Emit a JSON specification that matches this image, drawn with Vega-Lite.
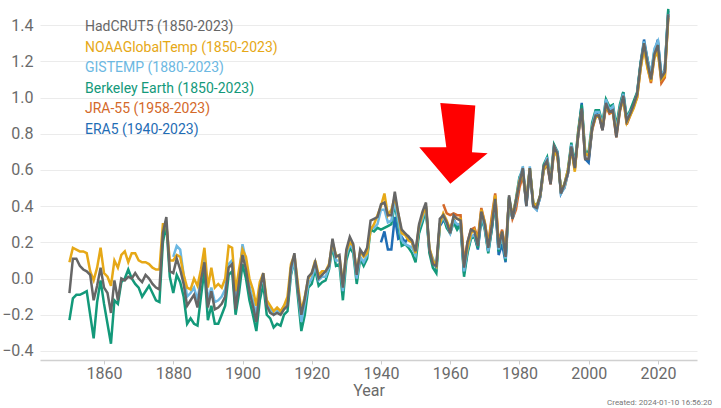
{
  "$schema": "https://vega.github.io/schema/vega-lite/v6.json",
  "width": 657,
  "height": 353,
  "autosize": "none",
  "padding": {"left": 40, "top": 7, "right": 24, "bottom": 48},
  "background": "white",
  "title": {"text": "Created: 2024-01-10 16:56:20", "orient": "bottom", "anchor": "end", "fontSize": 8, "fontWeight": "normal", "color": "#777777", "font": "Roboto", "offset": 1, "dx": 15},
  "config": {
    "view": {"stroke": null},
    "font": "Roboto",
    "axis": {"labelFont": "Roboto", "titleFont": "Roboto"},
    "legend": {"labelFont": "Roboto"}
  },
  "datasets": {
    "t": [
      {"year":1850,"H":-0.08,"N":0.09,"B":-0.23},
      {"year":1851,"H":0.11,"N":0.17,"B":-0.11},
      {"year":1852,"H":0.11,"N":0.16,"B":-0.09},
      {"year":1853,"H":0.07,"N":0.15,"B":-0.09},
      {"year":1854,"H":0.05,"N":0.15,"B":-0.08},
      {"year":1855,"H":0.04,"N":0.14,"B":-0.07},
      {"year":1856,"H":0.02,"N":0.04,"B":-0.2},
      {"year":1857,"H":-0.12,"N":-0.01,"B":-0.33},
      {"year":1858,"H":-0.04,"N":0.06,"B":-0.13},
      {"year":1859,"H":0.06,"N":0.17,"B":-0.01},
      {"year":1860,"H":-0.05,"N":0.03,"B":-0.14},
      {"year":1861,"H":-0.08,"N":0.01,"B":-0.25},
      {"year":1862,"H":-0.19,"N":-0.04,"B":-0.36},
      {"year":1863,"H":-0.01,"N":0.1,"B":-0.12},
      {"year":1864,"H":-0.12,"N":0.06,"B":-0.14},
      {"year":1865,"H":0.0,"N":0.13,"B":-0.02},
      {"year":1866,"H":-0.01,"N":0.15,"B":0.0},
      {"year":1867,"H":0.01,"N":0.09,"B":0.05},
      {"year":1868,"H":0.0,"N":0.14,"B":0.0},
      {"year":1869,"H":0.03,"N":0.14,"B":-0.03},
      {"year":1870,"H":0.0,"N":0.1,"B":-0.05},
      {"year":1871,"H":-0.02,"N":0.09,"B":-0.1},
      {"year":1872,"H":0.02,"N":0.09,"B":-0.07},
      {"year":1873,"H":0.0,"N":0.08,"B":-0.04},
      {"year":1874,"H":-0.03,"N":0.06,"B":-0.08},
      {"year":1875,"H":-0.05,"N":0.05,"B":-0.12},
      {"year":1876,"H":-0.06,"N":0.05,"B":-0.13},
      {"year":1877,"H":0.25,"N":0.3,"B":0.2},
      {"year":1878,"H":0.34,"N":0.3,"B":0.3},
      {"year":1879,"H":0.04,"N":0.1,"B":0.01},
      {"year":1880,"H":0.03,"N":0.1,"G":0.12,"B":-0.08},
      {"year":1881,"H":0.11,"N":0.13,"G":0.18,"B":0.02},
      {"year":1882,"H":0.05,"N":0.12,"G":0.16,"B":-0.02},
      {"year":1883,"H":-0.03,"N":0.02,"G":0.02,"B":-0.1},
      {"year":1884,"H":-0.15,"N":-0.05,"G":-0.1,"B":-0.25},
      {"year":1885,"H":-0.12,"N":-0.06,"G":-0.08,"B":-0.22},
      {"year":1886,"H":-0.09,"N":0.0,"G":-0.05,"B":-0.25},
      {"year":1887,"H":-0.16,"N":-0.04,"G":-0.12,"B":-0.26},
      {"year":1888,"H":-0.01,"N":0.05,"G":0.0,"B":-0.1},
      {"year":1889,"H":0.09,"N":0.17,"G":0.12,"B":0.05},
      {"year":1890,"H":-0.16,"N":-0.05,"G":-0.12,"B":-0.23},
      {"year":1891,"H":-0.07,"N":0.06,"G":-0.05,"B":-0.15},
      {"year":1892,"H":-0.17,"N":-0.05,"G":-0.13,"B":-0.25},
      {"year":1893,"H":-0.16,"N":-0.03,"G":-0.12,"B":-0.25},
      {"year":1894,"H":-0.14,"N":-0.05,"G":-0.1,"B":-0.2},
      {"year":1895,"H":-0.1,"N":0.0,"G":-0.06,"B":-0.15},
      {"year":1896,"H":0.06,"N":0.18,"G":0.08,"B":0.02},
      {"year":1897,"H":0.08,"N":0.17,"G":0.1,"B":0.04},
      {"year":1898,"H":-0.17,"N":-0.07,"G":-0.12,"B":-0.2},
      {"year":1899,"H":-0.02,"N":0.05,"G":0.0,"B":-0.08},
      {"year":1900,"H":0.13,"N":0.16,"G":0.19,"B":0.08},
      {"year":1901,"H":0.05,"N":0.12,"G":0.1,"B":0.0},
      {"year":1902,"H":-0.07,"N":0.0,"G":-0.04,"B":-0.12},
      {"year":1903,"H":-0.15,"N":-0.06,"G":-0.12,"B":-0.2},
      {"year":1904,"H":-0.24,"N":-0.15,"G":-0.2,"B":-0.29},
      {"year":1905,"H":-0.06,"N":-0.02,"G":-0.06,"B":-0.12},
      {"year":1906,"H":0.03,"N":0.03,"G":0.01,"B":-0.03},
      {"year":1907,"H":-0.15,"N":-0.12,"G":-0.14,"B":-0.2},
      {"year":1908,"H":-0.19,"N":-0.15,"G":-0.17,"B":-0.22},
      {"year":1909,"H":-0.2,"N":-0.18,"G":-0.2,"B":-0.27},
      {"year":1910,"H":-0.19,"N":-0.16,"G":-0.18,"B":-0.25},
      {"year":1911,"H":-0.2,"N":-0.18,"G":-0.19,"B":-0.26},
      {"year":1912,"H":-0.17,"N":-0.15,"G":-0.15,"B":-0.2},
      {"year":1913,"H":-0.15,"N":-0.1,"G":-0.13,"B":-0.18},
      {"year":1914,"H":0.06,"N":0.08,"G":0.03,"B":0.02},
      {"year":1915,"H":0.14,"N":0.13,"G":0.1,"B":0.1},
      {"year":1916,"H":-0.06,"N":-0.03,"G":-0.06,"B":-0.1},
      {"year":1917,"H":-0.2,"N":-0.18,"G":-0.24,"B":-0.29},
      {"year":1918,"H":-0.11,"N":-0.1,"G":-0.14,"B":-0.2},
      {"year":1919,"H":0.01,"N":0.0,"G":-0.03,"B":-0.05},
      {"year":1920,"H":0.03,"N":0.03,"G":0.0,"B":-0.03},
      {"year":1921,"H":0.09,"N":0.1,"G":0.07,"B":0.05},
      {"year":1922,"H":0.0,"N":0.02,"G":-0.01,"B":-0.04},
      {"year":1923,"H":0.02,"N":0.04,"G":0.01,"B":-0.02},
      {"year":1924,"H":0.04,"N":0.04,"G":0.01,"B":-0.01},
      {"year":1925,"H":0.07,"N":0.08,"G":0.06,"B":0.05},
      {"year":1926,"H":0.22,"N":0.2,"G":0.2,"B":0.18},
      {"year":1927,"H":0.12,"N":0.13,"G":0.1,"B":0.07},
      {"year":1928,"H":0.13,"N":0.12,"G":0.1,"B":0.08},
      {"year":1929,"H":-0.05,"N":-0.03,"G":-0.07,"B":-0.12},
      {"year":1930,"H":0.16,"N":0.15,"G":0.13,"B":0.1},
      {"year":1931,"H":0.23,"N":0.2,"G":0.19,"B":0.17},
      {"year":1932,"H":0.19,"N":0.18,"G":0.16,"B":0.14},
      {"year":1933,"H":0.02,"N":0.04,"G":0.0,"B":-0.03},
      {"year":1934,"H":0.16,"N":0.15,"G":0.12,"B":0.11},
      {"year":1935,"H":0.13,"N":0.12,"G":0.09,"B":0.07},
      {"year":1936,"H":0.17,"N":0.14,"G":0.13,"B":0.11},
      {"year":1937,"H":0.32,"N":0.27,"G":0.28,"B":0.27},
      {"year":1938,"H":0.33,"N":0.3,"G":0.28,"B":0.26},
      {"year":1939,"H":0.34,"N":0.35,"G":0.3,"B":0.28},
      {"year":1940,"H":0.41,"N":0.4,"G":0.38,"B":0.27,"E":0.2},
      {"year":1941,"H":0.42,"N":0.47,"G":0.38,"B":0.28,"E":0.26},
      {"year":1942,"H":0.35,"N":0.35,"G":0.31,"B":0.29,"E":0.16},
      {"year":1943,"H":0.35,"N":0.38,"G":0.32,"B":0.3,"E":0.16},
      {"year":1944,"H":0.48,"N":0.45,"G":0.43,"B":0.41,"E":0.34},
      {"year":1945,"H":0.36,"N":0.36,"G":0.32,"B":0.3,"E":0.22},
      {"year":1946,"H":0.27,"N":0.25,"G":0.21,"B":0.18,"E":0.23},
      {"year":1947,"H":0.25,"N":0.24,"G":0.19,"B":0.19,"E":0.2},
      {"year":1948,"H":0.23,"N":0.21,"G":0.18,"B":0.17,"E":0.23},
      {"year":1949,"H":0.21,"N":0.2,"G":0.17,"B":0.14,"E":0.2},
      {"year":1950,"H":0.15,"N":0.14,"G":0.13,"B":0.09,"E":0.13},
      {"year":1951,"H":0.3,"N":0.29,"G":0.28,"B":0.25,"E":0.26},
      {"year":1952,"H":0.37,"N":0.35,"G":0.33,"B":0.31,"E":0.33},
      {"year":1953,"H":0.42,"N":0.4,"G":0.4,"B":0.38,"E":0.39},
      {"year":1954,"H":0.16,"N":0.17,"G":0.16,"B":0.14,"E":0.15},
      {"year":1955,"H":0.08,"N":0.1,"G":0.11,"B":0.06,"E":0.1},
      {"year":1956,"H":0.07,"N":0.07,"G":0.07,"B":0.03,"E":0.06},
      {"year":1957,"H":0.33,"N":0.3,"G":0.3,"B":0.3,"E":0.29},
      {"year":1958,"H":0.35,"N":0.36,"G":0.34,"B":0.34,"E":0.32,"J":0.41},
      {"year":1959,"H":0.31,"N":0.32,"G":0.3,"B":0.28,"E":0.31,"J":0.36},
      {"year":1960,"H":0.25,"N":0.27,"G":0.25,"B":0.25,"E":0.27,"J":0.35},
      {"year":1961,"H":0.35,"N":0.34,"G":0.32,"B":0.31,"E":0.33,"J":0.36},
      {"year":1962,"H":0.33,"N":0.33,"G":0.3,"B":0.27,"E":0.28,"J":0.35},
      {"year":1963,"H":0.32,"N":0.33,"G":0.3,"B":0.3,"E":0.3,"J":0.35},
      {"year":1964,"H":0.06,"N":0.08,"G":0.04,"B":0.01,"E":0.03,"J":0.09},
      {"year":1965,"H":0.2,"N":0.17,"G":0.16,"B":0.14,"E":0.15,"J":0.2},
      {"year":1966,"H":0.27,"N":0.25,"G":0.23,"B":0.22,"E":0.23,"J":0.27},
      {"year":1967,"H":0.26,"N":0.27,"G":0.24,"B":0.23,"E":0.24,"J":0.28},
      {"year":1968,"H":0.18,"N":0.21,"G":0.18,"B":0.17,"E":0.16,"J":0.22},
      {"year":1969,"H":0.37,"N":0.38,"G":0.36,"B":0.34,"E":0.33,"J":0.39},
      {"year":1970,"H":0.3,"N":0.31,"G":0.28,"B":0.27,"E":0.28,"J":0.31},
      {"year":1971,"H":0.17,"N":0.18,"G":0.15,"B":0.14,"E":0.15,"J":0.19},
      {"year":1972,"H":0.29,"N":0.32,"G":0.29,"B":0.27,"E":0.27,"J":0.34},
      {"year":1973,"H":0.44,"N":0.46,"G":0.43,"B":0.42,"E":0.42,"J":0.47},
      {"year":1974,"H":0.17,"N":0.19,"G":0.16,"B":0.15,"E":0.13,"J":0.2},
      {"year":1975,"H":0.26,"N":0.26,"G":0.24,"B":0.24,"E":0.19,"J":0.27},
      {"year":1976,"H":0.12,"N":0.14,"G":0.11,"B":0.1,"E":0.09,"J":0.16},
      {"year":1977,"H":0.46,"N":0.44,"G":0.44,"B":0.45,"E":0.43,"J":0.44},
      {"year":1978,"H":0.33,"N":0.35,"G":0.33,"B":0.34,"E":0.33,"J":0.33},
      {"year":1979,"H":0.43,"N":0.43,"G":0.42,"B":0.44,"E":0.42,"J":0.38},
      {"year":1980,"H":0.53,"N":0.54,"G":0.55,"B":0.56,"E":0.54,"J":0.5},
      {"year":1981,"H":0.61,"N":0.58,"G":0.62,"B":0.6,"E":0.6,"J":0.57},
      {"year":1982,"H":0.4,"N":0.43,"G":0.41,"B":0.42,"E":0.4,"J":0.42},
      {"year":1983,"H":0.61,"N":0.61,"G":0.62,"B":0.61,"E":0.6,"J":0.6},
      {"year":1984,"H":0.4,"N":0.42,"G":0.4,"B":0.42,"E":0.4,"J":0.41},
      {"year":1985,"H":0.39,"N":0.4,"G":0.38,"B":0.4,"E":0.38,"J":0.39},
      {"year":1986,"H":0.46,"N":0.46,"G":0.45,"B":0.46,"E":0.45,"J":0.45},
      {"year":1987,"H":0.62,"N":0.6,"G":0.61,"B":0.63,"E":0.6,"J":0.6},
      {"year":1988,"H":0.65,"N":0.64,"G":0.67,"B":0.67,"E":0.64,"J":0.63},
      {"year":1989,"H":0.52,"N":0.54,"G":0.54,"B":0.55,"E":0.53,"J":0.52},
      {"year":1990,"H":0.73,"N":0.71,"G":0.73,"B":0.74,"E":0.72,"J":0.7},
      {"year":1991,"H":0.69,"N":0.67,"G":0.7,"B":0.7,"E":0.7,"J":0.68},
      {"year":1992,"H":0.47,"N":0.49,"G":0.47,"B":0.48,"E":0.47,"J":0.48},
      {"year":1993,"H":0.52,"N":0.52,"G":0.5,"B":0.52,"E":0.51,"J":0.5},
      {"year":1994,"H":0.58,"N":0.6,"G":0.58,"B":0.6,"E":0.58,"J":0.58},
      {"year":1995,"H":0.73,"N":0.72,"G":0.74,"B":0.75,"E":0.74,"J":0.72},
      {"year":1996,"H":0.61,"N":0.59,"G":0.62,"B":0.63,"E":0.61,"J":0.6},
      {"year":1997,"H":0.8,"N":0.81,"G":0.8,"B":0.82,"E":0.8,"J":0.79},
      {"year":1998,"H":0.94,"N":0.93,"G":0.93,"B":0.96,"E":0.97,"J":0.93},
      {"year":1999,"H":0.66,"N":0.69,"G":0.69,"B":0.7,"E":0.66,"J":0.66},
      {"year":2000,"H":0.66,"N":0.68,"G":0.68,"B":0.7,"E":0.64,"J":0.66},
      {"year":2001,"H":0.83,"N":0.83,"G":0.84,"B":0.86,"E":0.83,"J":0.82},
      {"year":2002,"H":0.9,"N":0.89,"G":0.92,"B":0.93,"E":0.92,"J":0.89},
      {"year":2003,"H":0.9,"N":0.9,"G":0.92,"B":0.93,"E":0.91,"J":0.9},
      {"year":2004,"H":0.82,"N":0.84,"G":0.84,"B":0.86,"E":0.82,"J":0.82},
      {"year":2005,"H":0.97,"N":0.95,"G":0.99,"B":0.99,"E":0.98,"J":0.95},
      {"year":2006,"H":0.92,"N":0.92,"G":0.93,"B":0.95,"E":0.93,"J":0.91},
      {"year":2007,"H":0.93,"N":0.92,"G":0.95,"B":0.96,"E":0.94,"J":0.92},
      {"year":2008,"H":0.78,"N":0.8,"G":0.82,"B":0.84,"E":0.8,"J":0.78},
      {"year":2009,"H":0.93,"N":0.93,"G":0.94,"B":0.96,"E":0.94,"J":0.92},
      {"year":2010,"H":1.01,"N":0.99,"G":1.02,"B":1.03,"E":1.03,"J":1.0},
      {"year":2011,"H":0.87,"N":0.86,"G":0.88,"B":0.89,"E":0.86,"J":0.85},
      {"year":2012,"H":0.91,"N":0.9,"G":0.92,"B":0.93,"E":0.91,"J":0.9},
      {"year":2013,"H":0.96,"N":0.94,"G":0.95,"B":0.98,"E":0.96,"J":0.95},
      {"year":2014,"H":1.02,"N":1.0,"G":1.02,"B":1.03,"E":1.02,"J":1.0},
      {"year":2015,"H":1.18,"N":1.16,"G":1.17,"B":1.19,"E":1.19,"J":1.16},
      {"year":2016,"H":1.3,"N":1.27,"G":1.31,"B":1.3,"E":1.32,"J":1.29},
      {"year":2017,"H":1.19,"N":1.16,"G":1.21,"B":1.21,"E":1.21,"J":1.17},
      {"year":2018,"H":1.1,"N":1.09,"G":1.13,"B":1.12,"E":1.1,"J":1.08},
      {"year":2019,"H":1.24,"N":1.22,"G":1.27,"B":1.26,"E":1.25,"J":1.23},
      {"year":2020,"H":1.29,"N":1.25,"G":1.31,"B":1.3,"E":1.32,"J":1.27},
      {"year":2021,"H":1.11,"N":1.1,"G":1.13,"B":1.12,"E":1.1,"J":1.08},
      {"year":2022,"H":1.14,"N":1.12,"G":1.15,"B":1.15,"E":1.16,"J":1.11},
      {"year":2023,"H":1.46,"N":1.44,"G":1.46,"B":1.49,"E":1.48,"J":1.45}
    ],
    "arrow": [
      {"year": 1960.9, "value": 0.746}
    ]
  },
  "encoding": {
    "x": {"field": "year", "type": "quantitative",
      "scale": {"domain": [1841.5, 2031.3], "nice": false, "zero": false},
      "axis": {"values": [1860,1880,1900,1920,1940,1960,1980,2000,2020], "format": "d", "grid": false,
        "domainColor": "#d0d0d0", "domainWidth": 1.5, "tickColor": "#cccccc", "tickSize": 4,
        "labelFontSize": 16, "labelColor": "#6a6a6a", "labelPadding": 1,
        "title": "Year", "titleFontSize": 16, "titleFontWeight": "normal", "titleColor": "#6a6a6a", "titlePadding": 1}},
    "y": {"field": "value", "type": "quantitative",
      "scale": {"domain": [-0.45, 1.5], "nice": false, "zero": false},
      "axis": {"values": [-0.4,-0.2,0,0.2,0.4,0.6,0.8,1.0,1.2,1.4], "format": ".1f", "domain": false, "ticks": false,
        "labelFontSize": 16, "labelColor": "#6a6a6a", "labelPadding": 7, "gridColor": "#ebebeb", "gridWidth": 1, "title": null}}
  },
  "layer": [
    {"data": {"name": "t"},
     "transform": [{"fold": ["H","N","G","B","J","E"], "as": ["series","value"]}, {"filter": "isValid(datum.value) && datum.series == 'J'"}],
     "mark": {"type": "line", "strokeWidth": 2.5},
     "encoding": {"color": {"field": "series", "type": "nominal",
       "scale": {"domain": ["H","N","G","B","J","E"], "range": ["#666666","#e6a817","#6cb8e2","#13997a","#d4692a","#1f6db5"]},
       "legend": {"orient": "none", "legendX": 31, "legendY": 13, "title": null, "symbolSize": 0, "symbolOpacity": 0, "symbolStrokeWidth": 0,
         "labelOffset": 0, "labelFontSize": 14, "labelLimit": 400, "rowPadding": 6.5,
         "labelExpr": "datum.label == 'H' ? 'HadCRUT5 (1850-2023)' : datum.label == 'N' ? 'NOAAGlobalTemp (1850-2023)' : datum.label == 'G' ? 'GISTEMP (1880-2023)' : datum.label == 'B' ? 'Berkeley Earth (1850-2023)' : datum.label == 'J' ? 'JRA-55 (1958-2023)' : 'ERA5 (1940-2023)'",
         "encode": {"labels": {"update": {"fill": {"scale": "color", "field": "value"}}}}}}}},
    {"data": {"name": "t"},
     "transform": [{"fold": ["H","N","G","B","J","E"], "as": ["series","value"]}, {"filter": "isValid(datum.value) && datum.series == 'E'"}],
     "mark": {"type": "line", "strokeWidth": 2.5},
     "encoding": {"color": {"field": "series", "type": "nominal"}}},
    {"data": {"name": "t"},
     "transform": [{"fold": ["H","N","G","B","J","E"], "as": ["series","value"]}, {"filter": "isValid(datum.value) && datum.series == 'B'"}],
     "mark": {"type": "line", "strokeWidth": 2.5},
     "encoding": {"color": {"field": "series", "type": "nominal"}}},
    {"data": {"name": "t"},
     "transform": [{"fold": ["H","N","G","B","J","E"], "as": ["series","value"]}, {"filter": "isValid(datum.value) && datum.series == 'G'"}],
     "mark": {"type": "line", "strokeWidth": 2.5},
     "encoding": {"color": {"field": "series", "type": "nominal"}}},
    {"data": {"name": "t"},
     "transform": [{"fold": ["H","N","G","B","J","E"], "as": ["series","value"]}, {"filter": "isValid(datum.value) && datum.series == 'N'"}],
     "mark": {"type": "line", "strokeWidth": 2.5},
     "encoding": {"color": {"field": "series", "type": "nominal"}}},
    {"data": {"name": "t"},
     "transform": [{"fold": ["H","N","G","B","J","E"], "as": ["series","value"]}, {"filter": "isValid(datum.value) && datum.series == 'H'"}],
     "mark": {"type": "line", "strokeWidth": 2.5},
     "encoding": {"color": {"field": "series", "type": "nominal"}}},
    {"data": {"name": "arrow"},
     "mark": {"type": "point", "shape": "M -0.325 -1.01 L 0.55 -0.95 L 0.467 0.218 L 0.858 0.243 L -0.075 1.008 L -0.85 0.093 L -0.175 0.093 Z", "filled": true, "color": "#ff0000", "opacity": 1, "size": 6400, "strokeWidth": 0}}
  ]
}
